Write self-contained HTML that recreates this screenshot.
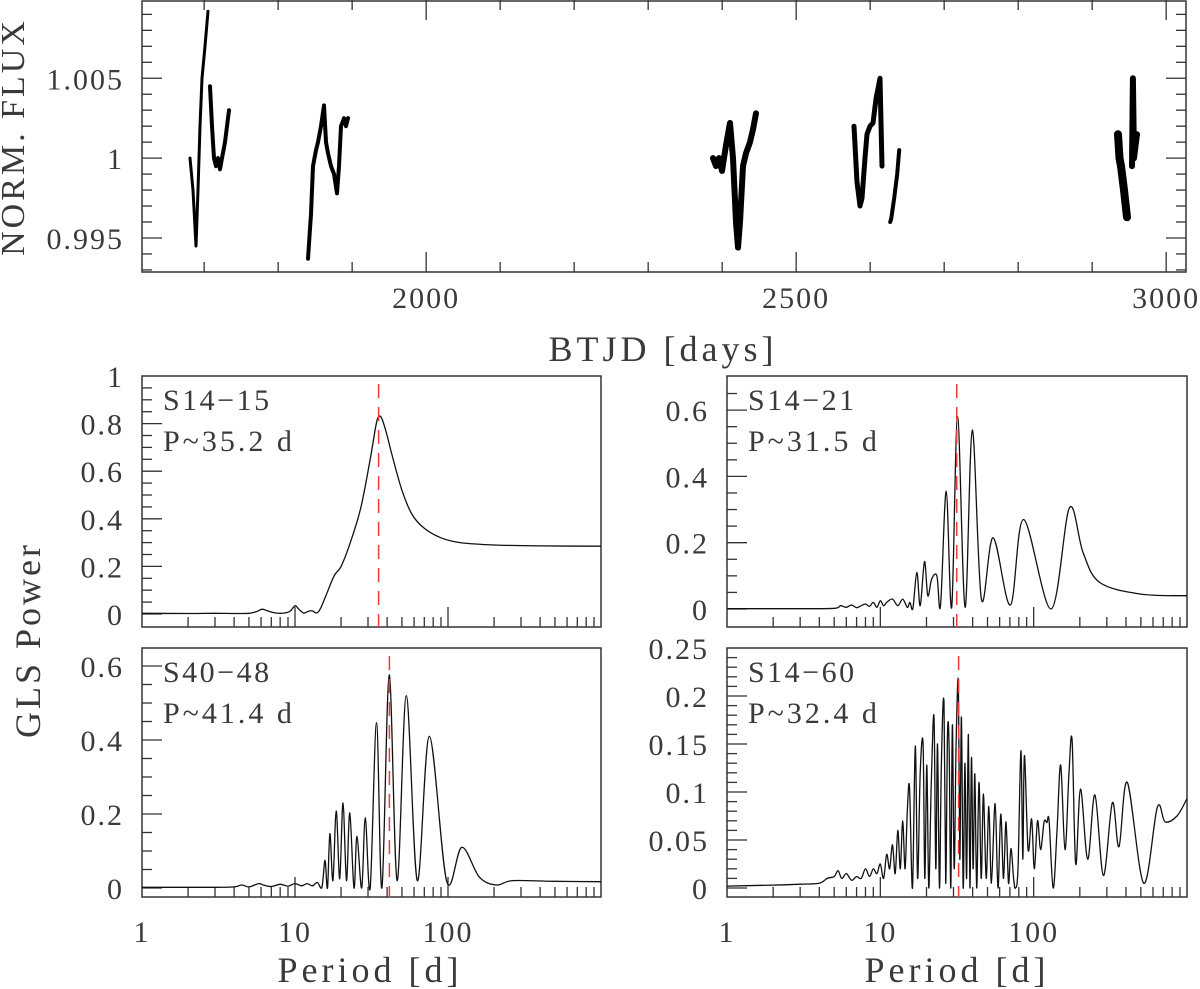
<!DOCTYPE html>
<html><head><meta charset="utf-8"><style>
html,body{margin:0;padding:0;background:#fff;}
svg{display:block;font-family:"Liberation Serif",serif;}
text{fill:#3a3a3a;}
</style></head><body>
<svg id="fig" width="1200" height="989" viewBox="0 0 1200 989" xmlns="http://www.w3.org/2000/svg"></svg>
<script>
// ---- Light curve data (BTJD days, normalized flux) ----
const lcSeg1T = [1680.9,1684.9,1689.0,1691.7,1694.4,1697.1,1701.1,1705.2];
const lcSeg1F = [1.0,0.998,0.9945,0.998,1.002,1.005,1.007,1.0092];
const lcSeg1bT = [1707.9,1710.6,1713.3,1716.0,1718.7,1721.4,1724.1,1728.2,1730.9,1733.6];
const lcSeg1bF = [1.0045,1.002,1.0,0.9995,1.0,0.9993,1.0,1.001,1.002,1.003];
const lcSeg2T = [1840.3,1844.4,1847.1,1851.1,1853.8,1857.9,1861.9,1864.6,1867.4,1871.4,1875.5,1879.5,1882.2,1884.9,1889.0,1891.7,1894.4];
const lcSeg2F = [0.9937,0.9965,0.9995,1.0005,1.001,1.002,1.0033,1.001,1.0003,0.9995,0.999,0.9978,0.9995,1.002,1.0025,1.002,1.0025];
const lcSeg3T = [2387.6,2391.7,2395.7,2399.8,2405.2,2410.6,2414.6,2418.7,2421.4,2424.1,2428.2,2432.2,2437.6,2441.7,2445.7];
const lcSeg3F = [1.0,0.9995,1.0,0.9992,1.0008,1.0022,1.0,0.996,0.9944,0.996,0.9995,1.0003,1.001,1.0018,1.0028];
const lcSeg4T = [2578.2,2582.2,2586.3,2589.0,2593.0,2595.7,2599.8,2603.8,2607.9,2613.3,2616.0];
const lcSeg4F = [1.002,0.9985,0.997,0.9975,1.0,1.0015,1.002,1.0022,1.0037,1.005,0.9995];
const lcSeg4bT = [2627.1,2628.4,2632.5,2636.5,2639.2];
const lcSeg4bF = [0.996,0.9962,0.9975,0.999,1.0005];
const lcSeg5T = [2934.9,2937.0,2939.0,2943.0,2947.1];
const lcSeg5F = [1.0015,1.0,0.9995,0.998,0.9963];
const lcSeg5bT = [2953.8,2955.1,2956.5,2959.2,2960.6];
const lcSeg5bF = [0.9995,1.005,1.0,1.001,1.0015];
const lcTicksMajor = [2000,2500,3000];

// ---- Periodogram data ----
const p1P = [1,2,3,4,5,5.6,6.1,6.7,7.5,8.5,9.3,10,10.6,11.4,12.3,13,13.8,14.6,16,18,20,23,27,31,34,35.5,37,40,43,50,58,70,90,120,200,400,1000];
const p1W = [0.003,0.002,0.003,0.002,0.003,0.01,0.02,0.012,0.004,0.004,0.012,0.035,0.02,0.004,0.012,0.013,0.004,0.02,0.08,0.16,0.2,0.3,0.45,0.65,0.8,0.83,0.82,0.75,0.67,0.52,0.42,0.36,0.32,0.3,0.29,0.286,0.285];
const p2P = [1,3,5,5.5,6,6.5,7,7.5,8,8.5,9,9.5,10,10.5,11,12,13,14,15,15.6,16.3,17.3,18.2,19.4,20.4,21.6,23.4,24.7,26.9,29.2,31.9,35.7,39.8,45.6,54.4,70.5,86,130,171,210,270,500,1000];
const p2W = [0.001,0.001,0.002,0.01,0.005,0.012,0.004,0.01,0.015,0.008,0.02,0.005,0.025,0.01,0.02,0.03,0.01,0.03,0.005,0.02,0.002,0.11,0.01,0.143,0.04,0.09,0.1,0.01,0.355,0.005,0.58,0.005,0.54,0.03,0.215,0.012,0.27,0.0,0.305,0.17,0.08,0.045,0.04];
const p3P = [1,3,4,4.5,5,5.8,6.2,7,8,9,10,11,12,13,14,15,15.7,16.3,16.9,17.7,18.6,19.6,20.6,21.7,22.8,24.3,25.4,27.3,28.8,31,34.1,37,41.3,46.5,53.4,63,75.6,98,123,160,207,265,500,1000];
const p3W = [0.002,0.002,0.003,0.008,0.003,0.012,0.008,0.004,0.01,0.005,0.012,0.006,0.012,0.006,0.015,0.002,0.075,0.0,0.147,0.02,0.208,0.025,0.23,0.02,0.203,0.0,0.14,0.0,0.19,0.0,0.447,0.0,0.576,0.02,0.52,0.02,0.41,0.018,0.11,0.03,0.008,0.02,0.018,0.017];
const p4P = [1,2,3,4,4.5,5,5.3,5.6,6,6.5,7,7.5,8,8.5,9,9.5,10,10.5,11,11.5,12,12.5,13,13.5,14,14.5,15,15.5,16.2,16.9,17.5,18.2,19,19.5,20.1,20.7,21.5,22.4,23,23.6,24.3,25,26,26.7,27.4,28.1,28.8,29.5,30.3,31.2,32.3,33,33.8,34.7,35.6,36.5,37.5,38.4,39.3,40.3,41.3,42.5,44,45.5,47,49,51,53,56,58.5,61,63.5,66,68.5,71,74,76,79,82.6,85,87,92,97,101,106,111,117,122,126,134,142,150,160,170,178,188,202,225,251,285,326,360,408,522,640,720,860,1000];
const p4W = [0.002,0.003,0.004,0.005,0.01,0.012,0.018,0.01,0.015,0.008,0.012,0.01,0.02,0.012,0.02,0.015,0.025,0.01,0.035,0.02,0.045,0.015,0.06,0.02,0.07,0.02,0.08,0.105,0.0,0.148,0.01,0.12,0.15,0.01,0.128,0.0,0.11,0.178,0.02,0.15,0.0,0.13,0.193,0.005,0.16,0.147,0.0,0.17,0.02,0.15,0.214,0.03,0.178,0.0,0.13,0.01,0.16,0.0,0.136,0.02,0.119,0.0,0.11,0.01,0.098,0.01,0.085,0.005,0.088,0.0,0.077,0.01,0.069,0.005,0.041,0.01,0.0,0.02,0.143,0.03,0.138,0.04,0.072,0.02,0.07,0.04,0.069,0.068,0.07,0.0,0.06,0.128,0.04,0.12,0.154,0.025,0.103,0.03,0.097,0.013,0.089,0.043,0.11,0.005,0.084,0.069,0.075,0.093];

const periods = {tl:35.2, tr:31.5, bl:41.4, br:32.4};

const svg = document.getElementById('fig');
const NS = 'http://www.w3.org/2000/svg';
function mk(tag, attrs, parent){
  const e = document.createElementNS(NS, tag);
  for (const k in attrs) e.setAttribute(k, attrs[k]);
  (parent||svg).appendChild(e);
  return e;
}
function txt(s, x, y, size, anchor, parent, rot, ls){
  const t = mk('text', {x:x, y:y, 'font-size':size, 'text-anchor':anchor||'middle', 'letter-spacing':ls||0}, parent);
  if (rot) t.setAttribute('transform', 'rotate(-90 '+x+' '+y+')');
  t.textContent = s;
  return t;
}

// ---------------- Top panel ----------------
const lcBox = {x0:142, x1:1186, y0:0, y1:272, tmin:1616, tmax:3026.8, fmin:0.99287, fmax:1.0099};
function tx(t){ return lcBox.x0 + (t-lcBox.tmin)/(lcBox.tmax-lcBox.tmin)*(lcBox.x1-lcBox.x0); }
function fy(f){ return lcBox.y1 - (f-lcBox.fmin)/(lcBox.fmax-lcBox.fmin)*(lcBox.y1-lcBox.y0); }
const gTop = mk('g', {});


const frame = mk('rect', {x:lcBox.x0, y:lcBox.y0+1, width:lcBox.x1-lcBox.x0, height:lcBox.y1-lcBox.y0-1, fill:'none', stroke:'#333', 'stroke-width':1.5}, gTop);


for (let t=1700; t<=3000; t+=100){
  const x = tx(t), L = (t%500===0)?20:10;
  mk('line', {x1:x, x2:x, y1:lcBox.y1, y2:lcBox.y1-L, stroke:'#333', 'stroke-width':1.3}, gTop);
  mk('line', {x1:x, x2:x, y1:lcBox.y0, y2:lcBox.y0+L, stroke:'#333', 'stroke-width':1.3}, gTop);
}
lcTicksMajor.forEach(t=>{
  const l = txt(String(t), tx(t), 308, 30, 'middle', gTop, false, 2);
  
  
});
for (let i=-7;i<=9;i++){
  const f = 1+i*0.001, y = fy(f);
  if (y<lcBox.y0+2 || y>lcBox.y1-2) continue;
  const L = (i%5===0)?20:10;
  mk('line', {x1:lcBox.x0, x2:lcBox.x0+L, y1:y, y2:y, stroke:'#333', 'stroke-width':1.3}, gTop);
  mk('line', {x1:lcBox.x1, x2:lcBox.x1-L, y1:y, y2:y, stroke:'#333', 'stroke-width':1.3}, gTop);
}
[[1.005,'1.005'],[1,'1'],[0.995,'0.995']].forEach(p=>{
  const l = txt(p[1], 124, fy(p[0])+11, 30, 'end', gTop, false, 2);
  
  
});
const ylt = txt('NORM. FLUX', 24, 137, 34, 'middle', gTop, true, 3);


const xlt = txt('BTJD [days]', 663, 361, 36, 'middle', gTop, false, 4);


[[lcSeg1T,lcSeg1F,3],[lcSeg1bT,lcSeg1bF,4],[lcSeg2T,lcSeg2F,4],[lcSeg3T,lcSeg3F,6],[lcSeg4T,lcSeg4F,5],[lcSeg4bT,lcSeg4bF,4],[lcSeg5T,lcSeg5F,8],[lcSeg5bT,lcSeg5bF,6]].forEach(s=>{
  const pts = s[0].map((t,j)=>tx(t).toFixed(1)+','+fy(s[1][j]).toFixed(1)).join(' ');
  const pl = mk('polyline', {points:pts, fill:'none', stroke:'#000', 'stroke-width':s[2], 'stroke-linejoin':'round', 'stroke-linecap':'round'}, gTop);
  
  
});

// ---------------- Periodogram panels ----------------
function smoothPath(pts){
  let d = 'M'+pts[0][0].toFixed(1)+','+pts[0][1].toFixed(1);
  for (let i=0;i<pts.length-1;i++){
    const p0 = pts[Math.max(0,i-1)], p1 = pts[i], p2 = pts[i+1], p3 = pts[Math.min(pts.length-1,i+2)];
    const c1x = p1[0]+(p2[0]-p0[0])/6, c1y = p1[1]+(p2[1]-p0[1])/6;
    const c2x = p2[0]-(p3[0]-p1[0])/6, c2y = p2[1]-(p3[1]-p1[1])/6;
    d += ' C'+c1x.toFixed(1)+','+c1y.toFixed(1)+' '+c2x.toFixed(1)+','+c2y.toFixed(1)+' '+p2[0].toFixed(1)+','+p2[1].toFixed(1);
  }
  return d;
}
function panel(o){
  const g = mk('g', {});
  
  
  const X = P => o.x0 + Math.log10(P)/3*(o.x1-o.x0);
  const Y = v => o.yz - v*o.ys;
  const cid = 'clip-'+o.name;
  const cp = mk('clipPath', {id:cid}, g);
  mk('rect', {x:o.x0, y:o.y0, width:o.x1-o.x0, height:o.y1-o.y0}, cp);
  mk('rect', {x:o.x0, y:o.y0, width:o.x1-o.x0, height:o.y1-o.y0, fill:'none', stroke:'#333', 'stroke-width':1.5}, g);
  for (let dec=1; dec<1000; dec*=10){
    for (let k=1;k<=9;k++){
      const P = dec*k; if (P===1) continue;
      const x = X(P), L = k===1?20:10;
      mk('line', {x1:x, x2:x, y1:o.y1, y2:o.y1-L, stroke:'#333', 'stroke-width':1.3}, g);
    }
  }
  if (o.xlabels){
    [1,10,100].forEach(P=>{
      const l = txt(String(P), X(P), 942, 30, 'middle', g, false, 2);
      
      
    });
  }
  for (let v=0; v<=o.ymaxTick+1e-9; v+=o.minor){
    const y = Y(v); if (y<o.y0+1) continue;
    const isMaj = Math.abs(v/o.major - Math.round(v/o.major))<1e-6;
    mk('line', {x1:o.x0, x2:o.x0+(isMaj?20:10), y1:y, y2:y, stroke:'#333', 'stroke-width':1.3}, g);
  }
  o.ylabels.forEach(v=>{
    const l = txt(String(v), o.x0-18, Y(v)+11, 30, 'end', g, false, 2);
    
    
  });
  const pts = o.P.map((P,i)=>[X(P), Y(o.W[i])]);
  const path = mk('path', {d:smoothPath(pts), fill:'none', stroke:'#111', 'stroke-width':1.3, 'clip-path':'url(#'+cid+')'}, g);
  
  
  const rx = X(o.period);
  const rl = mk('line', {x1:rx, x2:rx, y1:o.y0+8, y2:o.y1, stroke:'#f03a3a', 'stroke-width':1.5, 'stroke-dasharray':'14,9'}, g);
  
  
  const t1 = txt(o.label, o.x0+21, o.y0+34, 30, 'start', g, false, 2.5);
  
  
  const t2 = txt('P~'+o.period+' d', o.x0+21, o.y0+75, 30, 'start', g, false, 3);
  
  
}
panel({name:'periodogram-s14-15', x0:142, x1:601, y0:376, y1:627, yz:614, ys:238, major:0.2, minor:0.05, ymaxTick:1, ylabels:[0,0.2,0.4,0.6,0.8,1], P:p1P, W:p1W, period:periods.tl, label:'S14\u221215', xlabels:false});
panel({name:'periodogram-s14-21', x0:727, x1:1187, y0:376, y1:627, yz:609, ys:331.5, major:0.2, minor:0.05, ymaxTick:0.7, ylabels:[0,0.2,0.4,0.6], P:p2P, W:p2W, period:periods.tr, label:'S14\u221221', xlabels:false});
panel({name:'periodogram-s40-48', x0:142, x1:601, y0:648, y1:897, yz:888, ys:370, major:0.2, minor:0.05, ymaxTick:0.65, ylabels:[0,0.2,0.4,0.6], P:p3P, W:p3W, period:periods.bl, label:'S40\u221248', xlabels:true});
panel({name:'periodogram-s14-60', x0:727, x1:1187, y0:648, y1:897, yz:888, ys:960, major:0.05, minor:0.01, ymaxTick:0.25, ylabels:[0,0.05,0.1,0.15,0.2,0.25], P:p4P, W:p4W, period:periods.br, label:'S14\u221260', xlabels:true});

const gls = txt('GLS Power', 40, 640, 36, 'middle', null, true, 3);


const pl1 = txt('Period [d]', 370, 982, 36, 'middle', null, false, 4);


const pl2 = txt('Period [d]', 957, 982, 36, 'middle', null, false, 4);


</script>
</body></html>
